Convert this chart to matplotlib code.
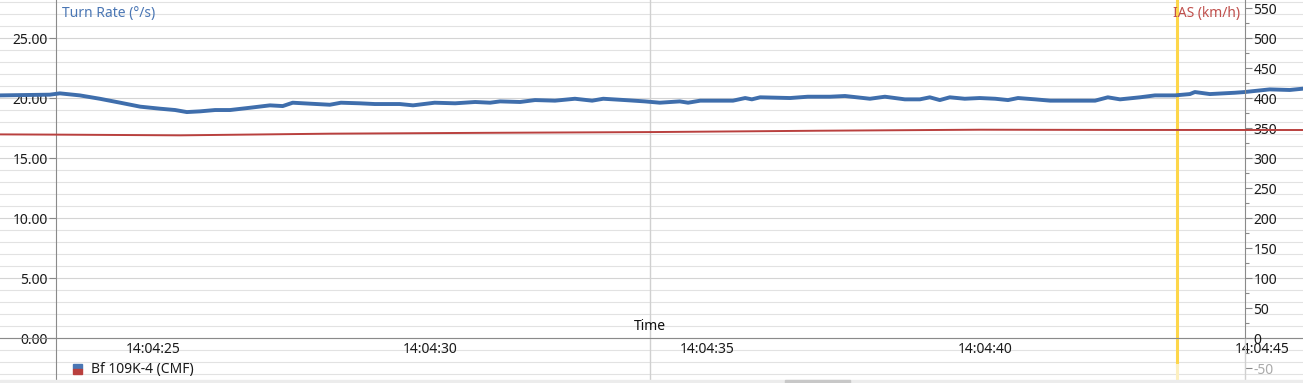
import matplotlib
matplotlib.use("Agg")
import matplotlib.pyplot as plt
from matplotlib.patches import Rectangle
import numpy as np

plt.rcParams['font.family'] = ['Noto Sans', 'DejaVu Sans']

# seconds after 14:04:00
turn_t = [22.24, 23.14, 23.32, 23.68, 24.04, 24.41, 24.77, 25.13, 25.40, 25.61,
          25.85, 26.12, 26.39, 26.75, 27.11, 27.34, 27.52, 27.83, 28.19, 28.39,
          28.73, 29.00, 29.45, 29.69, 30.08, 30.45, 30.81, 31.08, 31.26, 31.62,
          31.89, 32.25, 32.61, 32.92, 33.12, 33.51, 33.87, 34.14, 34.50, 34.65,
          34.87, 35.23, 35.46, 35.68, 35.80, 35.95, 36.49, 36.81, 37.21, 37.48,
          37.93, 38.20, 38.56, 38.83, 39.01, 39.19, 39.37, 39.64, 39.91, 40.19,
          40.42, 40.60, 40.91, 41.18, 41.54, 41.99, 42.22, 42.44, 42.80, 43.07,
          43.43, 43.70, 43.79, 44.06, 44.51, 44.69, 45.14, 45.50, 45.74]
turn_rate = [20.22, 20.28, 20.39, 20.22, 19.94, 19.61, 19.28, 19.11, 19.00, 18.83,
             18.89, 19.00, 19.00, 19.19, 19.39, 19.33, 19.61, 19.53, 19.44, 19.61,
             19.56, 19.50, 19.50, 19.39, 19.61, 19.56, 19.67, 19.61, 19.72, 19.67,
             19.83, 19.78, 19.94, 19.78, 19.94, 19.83, 19.72, 19.61, 19.72, 19.61,
             19.78, 19.78, 19.78, 20.00, 19.89, 20.06, 20.00, 20.11, 20.11, 20.17,
             19.94, 20.11, 19.89, 19.89, 20.06, 19.83, 20.06, 19.94, 20.00, 19.94,
             19.83, 20.00, 19.89, 19.78, 19.78, 19.78, 20.06, 19.89, 20.06, 20.22,
             20.22, 20.33, 20.50, 20.33, 20.44, 20.50, 20.72, 20.67, 20.78]

ias_t = [22.24, 23.25, 25.49, 28.19, 31.0, 34.05, 37.0, 39.91, 42.5, 45.74]
ias = [339.4, 339.0, 337.8, 340.6, 342.0, 343.3, 345.5, 347.2, 346.8, 346.7]

time_ticks = [25, 30, 35, 40, 45]
time_labels = ['14:04:25', '14:04:30', '14:04:35', '14:04:40', '14:04:45']
left_ticks = [0, 5, 10, 15, 20, 25]
right_ticks = [-50, 0, 50, 100, 150, 200, 250, 300, 350, 400, 450, 500, 550]
cursor_t = 43.467
series_name = 'Bf 109K-4 (CMF)'

blue = '#3f6eac'
red = '#b9403e'
axis_grey = '#8a8a8a'
fs = 10

fig = plt.figure(figsize=(13.03, 3.83), dpi=100)
ax = fig.add_axes([0, 0, 1, 1])
ax.set_xlim(22.241, 45.74)
ax.set_ylim(-3.75, 28.17)
ax2 = ax.twinx()
ax2.set_ylim(-75, 563.4)

# grid
for v in range(-3, 29):
    ax.axhline(v, color='#d4d4d4' if v % 5 == 0 else '#e2e2e2', lw=0.8, zorder=0)
ax.axvline(33.97, color='#d0d0d0', lw=1.0, zorder=0)

# cursor line
ax.axvline(cursor_t, ymin=(-2.25 + 3.75) / 31.92, ymax=1, color='#fdd64a', lw=2.2, zorder=1)
ax.axvline(cursor_t, ymin=0, ymax=(-2.25 + 3.75) / 31.92, color='#fdf0c0', lw=2.2, zorder=1)

ax.plot(turn_t, turn_rate, color=blue, lw=2.8, solid_capstyle='round', zorder=4)
ax2.plot(ias_t, ias, color=red, lw=1.4, zorder=3)

# spines
for s in ['top', 'right']:
    ax.spines[s].set_visible(False)
for s in ['top', 'left', 'bottom']:
    ax2.spines[s].set_visible(False)
ax.spines['left'].set_position(('data', 23.251))
ax.spines['left'].set_color(axis_grey)
ax.spines['bottom'].set_position(('data', 0))
ax.spines['bottom'].set_color(axis_grey)
ax2.spines['right'].set_position(('axes', 1245 / 1303))
ax2.spines['right'].set_color(axis_grey)
ax2.spines['right'].set_bounds(0, 563.4)
ax2.axvline(44.694, ymin=0, ymax=75 / 638.4, color='#d0d0d0', lw=1.0)

ax.set_yticks(left_ticks)
ax.set_yticklabels(['%.2f' % v for v in left_ticks])
ax.tick_params(axis='y', direction='out', length=5, width=0.8, color=axis_grey,
               pad=1, labelsize=fs, labelcolor='#1a1a1a')
ax.set_xticks(time_ticks)
ax.set_xticklabels(time_labels)
ax.tick_params(axis='x', length=0, pad=3, labelsize=fs, labelcolor='#1a1a1a')

ax2.set_yticks(right_ticks)
ax2.set_yticklabels([str(v) for v in right_ticks])
ax2.set_yticks(np.arange(-25, 560, 50), minor=True)
ax2.tick_params(axis='y', which='major', direction='out', length=5, width=0.8,
                color=axis_grey, pad=1, labelsize=fs, labelcolor='#1a1a1a')
ax2.tick_params(axis='y', which='minor', direction='out', length=3, width=0.8,
                color=axis_grey)
ax2.get_yticklabels()[0].set_color('#aaaaaa')

fig.text(62 / 1303, 1 - 14 / 383, 'Turn Rate (°/s)', color='#4a76b4', fontsize=fs,
         ha='left', va='center')
fig.text(1240 / 1303, 1 - 14 / 383, 'IAS (km/h)', color='#c0504d', fontsize=fs,
         ha='right', va='center')
fig.text(650 / 1303, 1 - 327 / 383, 'Time', color='#111111', fontsize=fs,
         ha='center', va='center')

# legend
fig.patches.append(Rectangle((73 / 1303, 1 - 369 / 383), 9 / 1303, 5 / 383,
                             transform=fig.transFigure, color='#4a76b4'))
fig.patches.append(Rectangle((73 / 1303, 1 - 374 / 383), 9 / 1303, 5 / 383,
                             transform=fig.transFigure, color='#b9403e'))
fig.text(91 / 1303, 1 - 369 / 383, series_name, color='#1a1a1a', fontsize=fs,
         ha='left', va='center')

# bottom strip
fig.patches.append(Rectangle((0, 0), 1, 3 / 383, transform=fig.transFigure,
                             color='#ececec'))
fig.patches.append(Rectangle((785 / 1303, 0), 65 / 1303, 3 / 383,
                             transform=fig.transFigure, color='#c8c8c8'))

fig.savefig('out.png', dpi=100)
